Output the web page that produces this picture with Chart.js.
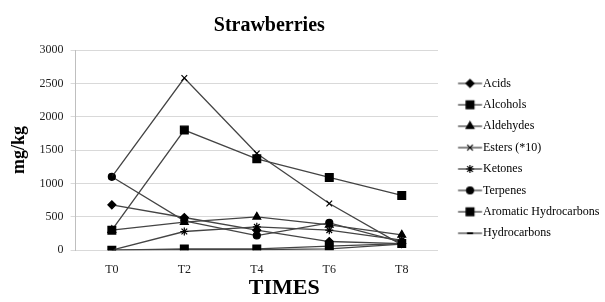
<!DOCTYPE html>
<html>
<head>
<meta charset="utf-8">
<script src="https://cdn.jsdelivr.net/npm/chart.js@4.4.0/dist/chart.umd.min.js"></script>
<style>
  html, body { margin: 0; padding: 0; background: #fff; }
</style>
</head>
<body>
<canvas id="myChart" width="605" height="302"></canvas>
<script>
// sampling times
const times = ['T0', 'T2', 'T4', 'T6', 'T8'];

// mg/kg per compound class (esters are shown x10)
const acids = [680, 490, 300, 130, 100];
const alcohols = [300, 1800, 1370, 1090, 820];
const aldehydes = [300, 420, 500, 380, 230];
const esters = [1100, 2580, 1450, 700, 80];
const ketones = [0, 280, 350, 300, 150];
const terpenes = [1100, 440, 220, 410, 120];
const aromaticHydrocarbons = [0, 20, 20, 60, 100];
const hydrocarbons = [0, 10, 10, 20, 90];

const yMax = 3000;
const yStep = 500;

const serif = 'Liberation Serif';
const lineColor = '#444';

const series = [
	{ label: 'Acids', data: acids, style: 'rectRot', r: 4 },
	{ label: 'Alcohols', data: alcohols, style: 'rect', r: 5.5 },
	{ label: 'Aldehydes', data: aldehydes, style: 'triangle', r: 4.5 },
	{ label: 'Esters (*10)', data: esters, style: 'crossRot', r: 4 },
	{ label: 'Ketones', data: ketones, style: 'star', r: 4 },
	{ label: 'Terpenes', data: terpenes, style: 'circle', r: 3.5 },
	{ label: 'Aromatic Hydrocarbons', data: aromaticHydrocarbons, style: 'rect', r: 5.5 },
	{ label: 'Hydrocarbons', data: hydrocarbons, style: 'line', r: 4 }
];

// little "line + marker" sample for the legend
function legendIcon(style, r) {
	const c = document.createElement('canvas');
	c.width = 50;
	c.height = 12;
	const g = c.getContext('2d');
	g.strokeStyle = lineColor;
	g.lineWidth = 1.3;
	g.beginPath();
	g.moveTo(20.8, 6);
	g.lineTo(44.8, 6);
	g.stroke();
	g.fillStyle = '#000';
	g.strokeStyle = '#000';
	g.lineWidth = 1.2;
	if (style !== 'line') {
		Chart.helpers.drawPoint(g, { pointStyle: style, radius: r, borderWidth: 1.2, rotation: 0 }, 32.8, 6);
	} else {
		g.fillRect(29.8, 5, 6, 2);
	}
	return c;
}

const icons = series.map(s => legendIcon(s.style, s.r));

const ctx = document.getElementById('myChart').getContext('2d');
new Chart(ctx, {
	type: 'line',
	data: {
		labels: times,
		datasets: series.map(s => ({
			label: s.label,
			data: s.data,
			borderColor: lineColor,
			borderWidth: 1.3,
			pointStyle: s.style,
			pointRadius: s.r,
			pointBackgroundColor: '#000',
			pointBorderColor: '#000',
			pointBorderWidth: 1.2,
			tension: 0,
			fill: false
		}))
	},
	options: {
		responsive: false,
		animation: false,
		devicePixelRatio: 1,
		layout: {
			padding: { left: 9, right: 0, top: 0, bottom: 0 }
		},
		scales: {
			x: {
				offset: true,
				grid: { display: false, drawTicks: false },
				border: { display: false },
				ticks: {
					padding: 12,
					color: '#222',
					font: { family: serif, size: 12 }
				},
				title: {
					display: true,
					text: '\u00a0\u00a0\u00a0\u00a0\u00a0\u00a0\u00a0\u00a0\u00a0\u00a0TIMES',
					color: '#000',
					font: { family: serif, size: 22, weight: 'bold' },
					padding: { top: -13, bottom: 0 }
				}
			},
			y: {
				min: 0,
				max: yMax,
				ticks: {
					stepSize: yStep,
					padding: 7,
					color: '#222',
					font: { family: serif, size: 12 },
					callback: v => String(v)
				},
				grid: { color: '#d9d9d9', lineWidth: 1, tickLength: 5 },
				border: { color: '#bfbfbf' },
				title: {
					display: true,
					text: 'mg/kg',
					color: '#000',
					font: { family: serif, size: 18, weight: 'bold' },
					padding: { top: 0, bottom: 2 }
				}
			}
		},
		plugins: {
			title: {
				display: true,
				fullSize: false,
				text: '\u00a0\u00a0\u00a0\u00a0\u00a0Strawberries',
				color: '#000',
				font: { family: serif, size: 20, weight: 'bold' },
				padding: { top: 14, bottom: 12 }
			},
			legend: {
				position: 'right',
				align: 'start',
				maxWidth: 167,
				title: {
					display: true,
					text: ' ',
					font: { family: serif, size: 12 },
					padding: { top: 53.6, bottom: 0 }
				},
				labels: {
					usePointStyle: true,
					pointStyleWidth: 29.6,
					padding: 9.4,
					color: '#000',
					font: { family: serif, size: 12 },
					generateLabels: function(chart) {
						const items = Chart.defaults.plugins.legend.labels.generateLabels(chart);
						items.forEach((it, i) => { it.pointStyle = icons[i]; });
						return items;
					}
				}
			},
			tooltip: { enabled: false }
		}
	}
});
</script>
</body>
</html>
